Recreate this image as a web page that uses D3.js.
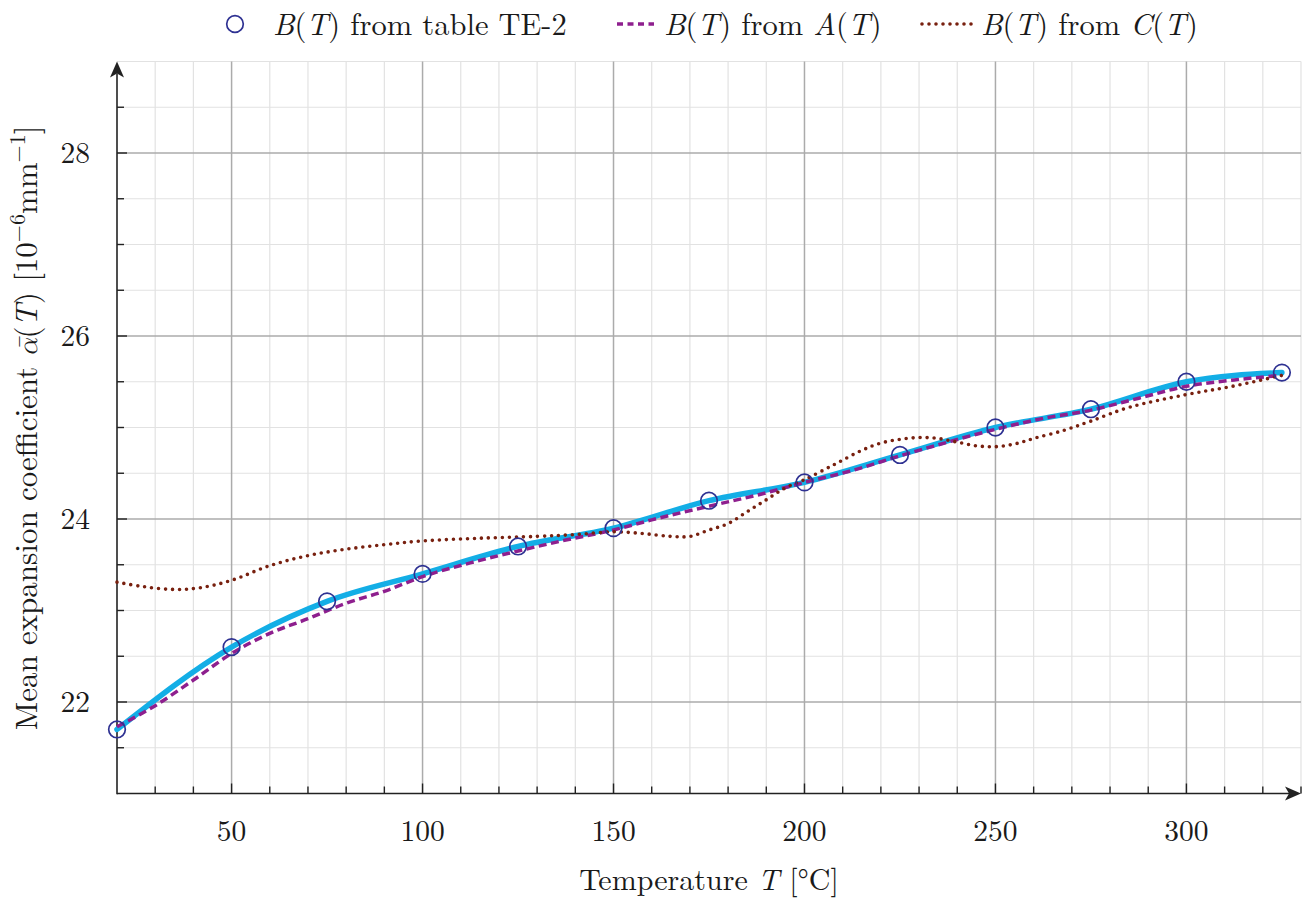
<!DOCTYPE html>
<html>
<head>
<meta charset="utf-8">
<script src="https://cdn.jsdelivr.net/npm/d3@7/dist/d3.min.js"></script>
<style>
  html, body { margin: 0; padding: 0; background: #fff; }
  svg { display: block; }
</style>
</head>
<body>
<svg id="chart" width="1309" height="905"></svg>
<script>
// ---------- data ----------
const tableT = [20, 50, 75, 100, 125, 150, 175, 200, 225, 250, 275, 300, 325];
const tableB = [21.7, 22.6, 23.1, 23.4, 23.7, 23.9, 24.2, 24.4, 24.7, 25.0, 25.2, 25.5, 25.6];

const fromA_T = [20, 30, 40, 50, 60, 70, 80, 90, 100, 112.5, 125, 137.5, 150, 160, 175, 187.5, 200, 212.5, 225, 237.5, 250, 262.5, 275, 287.5, 300, 312.5, 325];
const fromA_B = [21.73, 21.96, 22.24, 22.53, 22.75, 22.91, 23.08, 23.21, 23.37, 23.52, 23.65, 23.77, 23.88, 23.99, 24.14, 24.26, 24.40, 24.53, 24.69, 24.84, 24.98, 25.10, 25.19, 25.32, 25.45, 25.52, 25.57];

const fromC_T = [20, 27, 35, 42, 50, 60, 70, 80, 90, 100, 115, 130, 140, 150, 158, 165, 170, 175, 180, 185, 190, 195, 200, 208, 215, 220, 225, 230, 235, 240, 245, 250, 255, 260, 268, 275, 285, 300, 312, 325];
const fromC_B = [23.31, 23.26, 23.23, 23.25, 23.33, 23.49, 23.60, 23.67, 23.72, 23.76, 23.79, 23.81, 23.83, 23.86, 23.84, 23.81, 23.81, 23.88, 23.95, 24.08, 24.21, 24.34, 24.43, 24.60, 24.75, 24.83, 24.87, 24.89, 24.88, 24.84, 24.80, 24.79, 24.82, 24.88, 24.97, 25.07, 25.22, 25.36, 25.45, 25.57];

const xMajorTicks = [50, 100, 150, 200, 250, 300];
const yMajorTicks = [22, 24, 26, 28];

const legendLabels = [
  [["B", true], ["(", false], ["T", true], [") from table TE-2", false]],
  [["B", true], ["(", false], ["T", true], [") from ", false], ["A", true], ["(", false], ["T", true], [")", false]],
  [["B", true], ["(", false], ["T", true], [") from ", false], ["C", true], ["(", false], ["T", true], [")", false]]
];

// ---------- setup ----------
const FONT = "'Latin Modern Roman', 'CMU Serif', 'Liberation Serif', serif";
const svg = d3.select("#chart").attr("font-family", FONT);
const x = d3.scaleLinear().domain([20, 330]).range([117, 1301]);
const y = d3.scaleLinear().domain([21, 29]).range([793.5, 61.5]);

const xMinor = d3.range(30, 331, 10).filter(v => v % 50 !== 0);
const yMinor = d3.range(21.5, 29.01, 0.5).filter(v => v % 2 !== 0);

const colCyan = "#13aee6", colPurple = "#8e1f8e", colBrown = "#78200f", colMarker = "#2e3192";
const txtCol = "#1a1a1a";

// ---------- grid ----------
const grid = svg.append("g");
grid.selectAll(".vmin").data(xMinor).join("line")
  .attr("x1", d => x(d)).attr("x2", d => x(d)).attr("y1", y(21)).attr("y2", y(29))
  .attr("stroke", "#e2e2e2").attr("stroke-width", 1.2);
grid.selectAll(".hmin").data(yMinor).join("line")
  .attr("y1", d => y(d)).attr("y2", d => y(d)).attr("x1", x(20)).attr("x2", x(330))
  .attr("stroke", "#e2e2e2").attr("stroke-width", 1.2);
grid.selectAll(".vmaj").data(xMajorTicks).join("line")
  .attr("x1", d => x(d)).attr("x2", d => x(d)).attr("y1", y(21)).attr("y2", y(29))
  .attr("stroke", "#ababab").attr("stroke-width", 1.5);
grid.selectAll(".hmaj").data(yMajorTicks).join("line")
  .attr("y1", d => y(d)).attr("y2", d => y(d)).attr("x1", x(20)).attr("x2", x(330))
  .attr("stroke", "#ababab").attr("stroke-width", 1.5);

// ---------- axes ----------
const axisCol = "#222";
const ax = svg.append("g");
ax.append("line").attr("x1", x(20)).attr("x2", x(330) - 12).attr("y1", y(21)).attr("y2", y(21))
  .attr("stroke", axisCol).attr("stroke-width", 1.6);
ax.append("path")
  .attr("d", `M${x(330)},${y(21)} L${x(330) - 16},${y(21) - 7} L${x(330) - 12},${y(21)} L${x(330) - 16},${y(21) + 7} Z`)
  .attr("fill", axisCol);
ax.append("line").attr("x1", x(20)).attr("x2", x(20)).attr("y1", y(21) + 0.8).attr("y2", y(29) + 12)
  .attr("stroke", axisCol).attr("stroke-width", 1.6);
ax.append("path")
  .attr("d", `M${x(20)},${y(29)} L${x(20) - 7},${y(29) + 16} L${x(20)},${y(29) + 12} L${x(20) + 7},${y(29) + 16} Z`)
  .attr("fill", axisCol);

ax.selectAll(".xtmin").data(xMinor).join("line")
  .attr("x1", d => x(d)).attr("x2", d => x(d)).attr("y1", y(21)).attr("y2", y(21) - 7)
  .attr("stroke", axisCol).attr("stroke-width", 1.4);
ax.selectAll(".xtmaj").data(xMajorTicks).join("line")
  .attr("x1", d => x(d)).attr("x2", d => x(d)).attr("y1", y(21)).attr("y2", y(21) - 10)
  .attr("stroke", axisCol).attr("stroke-width", 1.4);
ax.selectAll(".ytmin").data(yMinor.filter(v => v < 29)).join("line")
  .attr("y1", d => y(d)).attr("y2", d => y(d)).attr("x1", x(20)).attr("x2", x(20) + 7)
  .attr("stroke", axisCol).attr("stroke-width", 1.4);
ax.selectAll(".ytmaj").data(yMajorTicks).join("line")
  .attr("y1", d => y(d)).attr("y2", d => y(d)).attr("x1", x(20)).attr("x2", x(20) + 10)
  .attr("stroke", axisCol).attr("stroke-width", 1.4);

// tick labels
const tfs = 29.5;
ax.selectAll(".xlab").data(xMajorTicks).join("text")
  .attr("x", d => x(d)).attr("y", 841).attr("text-anchor", "middle").attr("fill", txtCol)
  .attr("font-size", tfs).text(d => d);
ax.selectAll(".ylab").data(yMajorTicks).join("text")
  .attr("x", 90).attr("y", d => y(d) + 10).attr("text-anchor", "end").attr("fill", txtCol)
  .attr("font-size", tfs).text(d => d);

// axis titles
const lfs = 30;
const xt = svg.append("text").attr("x", 709).attr("y", 890).attr("text-anchor", "middle")
  .attr("font-size", lfs).attr("fill", txtCol);
xt.append("tspan").text("Temperature ");
xt.append("tspan").attr("font-style", "italic").text("T");
xt.append("tspan").text(" [°C]");

const yt = svg.append("text").attr("transform", "translate(37,428) rotate(-90)")
  .attr("text-anchor", "middle").attr("font-size", 31).attr("fill", txtCol);
yt.append("tspan").text("Mean expansion coefficient ");
yt.append("tspan").attr("font-style", "italic")
  .attr("font-family", "'Latin Modern Math', 'DejaVu Serif', serif").attr("font-size", 28).text("α\u0304");
yt.append("tspan").text("(");
yt.append("tspan").attr("font-style", "italic").text("T");
yt.append("tspan").text(") [10");
yt.append("tspan").attr("font-size", 22).attr("dy", -12).text("−6");
yt.append("tspan").attr("dy", 12).text("mm");
yt.append("tspan").attr("font-size", 22).attr("dy", -12).text("−1");
yt.append("tspan").attr("dy", 12).text("]");

// ---------- series ----------
const plot = svg.append("g");
const mkLine = c => d3.line().x(d => x(d[0])).y(d => y(d[1])).curve(c);

plot.append("path").datum(d3.zip(tableT, tableB))
  .attr("d", mkLine(d3.curveMonotoneX))
  .attr("fill", "none").attr("stroke", colCyan).attr("stroke-width", 5.5).attr("stroke-linecap", "round");

plot.append("path").datum(d3.zip(fromA_T, fromA_B))
  .attr("d", mkLine(d3.curveMonotoneX))
  .attr("fill", "none").attr("stroke", colPurple).attr("stroke-width", 3.5)
  .attr("stroke-dasharray", "8,4.5");

plot.append("path").datum(d3.zip(fromC_T, fromC_B))
  .attr("d", mkLine(d3.curveCatmullRom))
  .attr("fill", "none").attr("stroke", colBrown).attr("stroke-width", 3.6)
  .attr("stroke-linecap", "round").attr("stroke-dasharray", "0,7");

plot.selectAll(".pt").data(d3.zip(tableT, tableB)).join("circle")
  .attr("cx", d => x(d[0])).attr("cy", d => y(d[1])).attr("r", 8.3)
  .attr("fill", "none").attr("stroke", colMarker).attr("stroke-width", 1.7);

// ---------- legend ----------
const legY = 24;
const lg = svg.append("g");
lg.append("circle").attr("cx", 235).attr("cy", legY).attr("r", 8.3)
  .attr("fill", "none").attr("stroke", colMarker).attr("stroke-width", 1.7);
lg.append("line").attr("x1", 617).attr("x2", 654).attr("y1", legY).attr("y2", legY)
  .attr("stroke", colPurple).attr("stroke-width", 3.5).attr("stroke-dasharray", "6,4.5");
lg.append("line").attr("x1", 922).attr("x2", 972).attr("y1", legY).attr("y2", legY)
  .attr("stroke", colBrown).attr("stroke-width", 3.6).attr("stroke-linecap", "round").attr("stroke-dasharray", "0,7");

const legX = [273, 664, 981];
legendLabels.forEach((parts, i) => {
  const t = lg.append("text").attr("x", legX[i]).attr("y", legY + 11).attr("font-size", 30.5).attr("fill", txtCol);
  parts.forEach(p => {
    const s = t.append("tspan").text(p[0]);
    if (p[1]) s.attr("font-style", "italic");
  });
});
</script>
</body>
</html>
